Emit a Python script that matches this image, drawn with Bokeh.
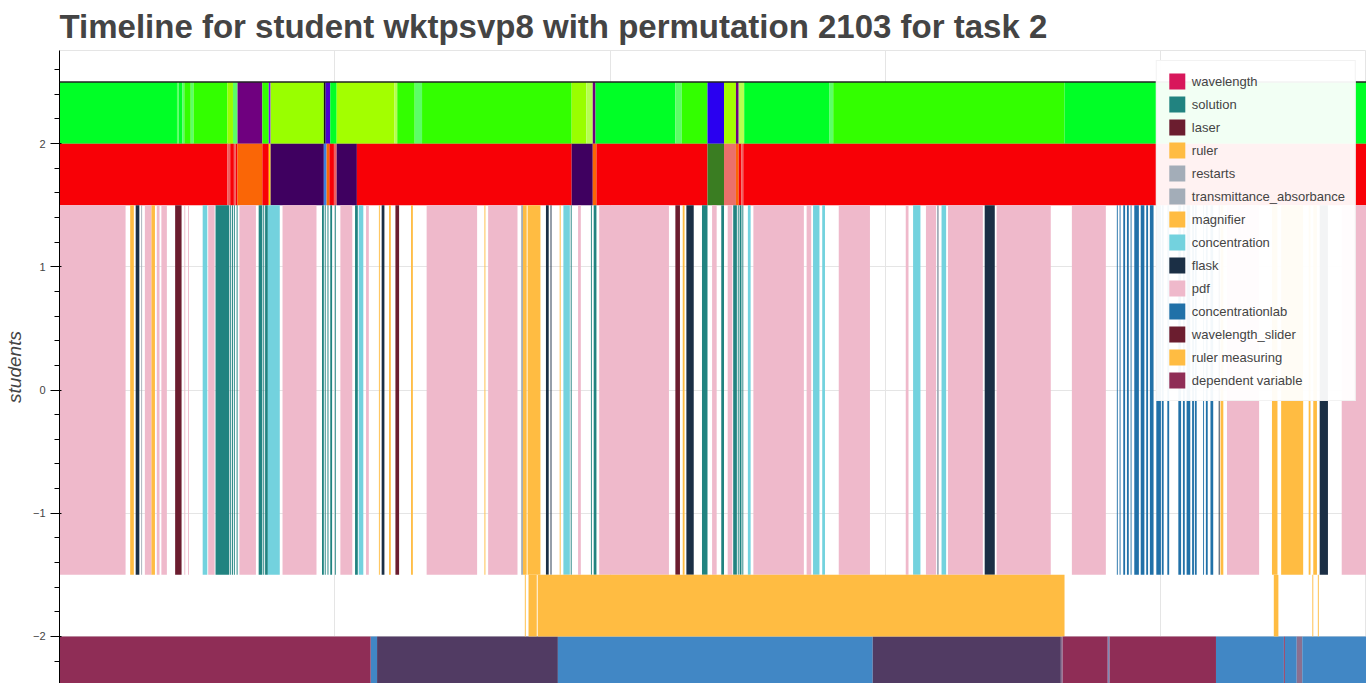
from bokeh.plotting import figure
from bokeh.models import (ColumnDataSource, Range1d, Legend, LegendItem, Span,
                          SingleIntervalTicker)
from bokeh.embed import file_html
from bokeh.resources import INLINE

TITLE = "Timeline for student wktpsvp8 with permutation 2103 for task 2"
Y_LABEL = "students"

# ---------------- data (times in seconds from start) ----------------
# Row A (upper state strip): breakpoints and the state between them
row_a_breaks = [0, 128, 130, 134, 136, 143, 146, 183, 189, 194, 221, 228, 230, 288, 290,
                295, 302, 365, 368, 387, 395, 558, 574, 581, 584, 671, 678, 706, 724,
                737, 740, 746, 839, 843, 1095, 1430]
row_a_states = ["a", "i", "a", "i", "b", "i", "b", "c", "i", "e", "b", "k", "c", "h", "g",
                "a", "d", "j", "b", "i", "b", "c", "j", "e", "a", "i", "b", "f", "d", "e",
                "j", "a", "i", "b", "a"]

# Row B (second state strip)
row_b_breaks = [0, 183, 186, 190, 192, 194, 221, 228, 230, 288, 291, 294, 299, 302, 324,
                558, 581, 585, 706, 724, 737, 740, 743, 745, 1430]
row_b_states = ["r", "s", "r", "s", "r", "o", "r", "y", "p", "u", "o", "r", "s", "p", "r",
                "p", "o", "r", "v", "m", "o", "r", "s", "r"]

# Row E (bottom strip)
row_e_breaks = [0, 339, 346, 543, 886, 1091, 1093, 1142, 1144, 1260, 1334, 1335, 1348,
                1354, 1430]
row_e_states = ["dependent variable", "E2", "E3", "E2", "E3", "E4", "dependent variable",
                "E5", "dependent variable", "E2", "dependent variable", "E2", "E4", "E2"]

# Row D: ruler measuring intervals
ruler_measuring = [(507, 508), (511, 520), (521, 1095), (1323, 1328), (1365, 1366),
                   (1371, 1372)]

# Main band: action intervals per category
wavelength = [(0, 0)]
solution = [(170, 185), (186, 187), (188, 189), (190, 191), (193, 194), (217, 221),
            (222, 223), (224, 227), (286, 288), (289, 290), (292, 293), (295, 297),
            (300, 301), (322, 325), (557, 558), (579, 580), (582, 585), (700, 706),
            (721, 724), (734, 738), (739, 740), (741, 743), (744, 745)]
laser = [(126, 133), (671, 676)]
ruler = [(77, 81), (100, 104), (348, 349), (359, 361), (383, 385), (463, 464), (505, 509),
         (545, 546), (679, 681), (1265, 1268), (1321, 1327), (1361, 1363), (1366, 1370)]
restarts = [(89, 90), (503, 505)]
transmittance_absorbance = [(956, 958)]
magnifier = [(510, 524), (1331, 1355)]
concentration = [(156, 161), (227, 240), (326, 331), (549, 556), (750, 753), (821, 828),
                 (831, 834), (930, 938), (961, 966)]
flask = [(83, 87), (351, 354), (530, 533), (535, 536), (683, 691), (1008, 1019),
         (1263, 1264), (1373, 1382)]
pdf = [(0, 72), (93, 100), (106, 109), (111, 117), (136, 137), (140, 141), (162, 169),
       (196, 214), (243, 280), (306, 319), (334, 337), (400, 455), (467, 499), (565, 568),
       (588, 664), (711, 716), (728, 733), (756, 811), (814, 819), (849, 883), (922, 925),
       (944, 955), (968, 1006), (1021, 1080), (1103, 1140), (1272, 1307), (1397, 1430)]
concentrationlab = [(1152, 1153), (1155, 1156), (1159, 1161), (1163, 1165), (1167, 1168),
                    (1171, 1176), (1178, 1182), (1184, 1186), (1188, 1192), (1195, 1200),
                    (1201, 1203), (1207, 1209), (1219, 1222), (1224, 1226), (1228, 1232),
                    (1234, 1236), (1237, 1239), (1246, 1247), (1249, 1251), (1254, 1257)]
wavelength_slider = [(366, 370)]

# ---------------- styling ----------------
ROW_A_COLORS = {"a": "#00FF26", "b": "#33FF00", "c": "#99FF00", "d": "#A3FF00",
                "e": "#6F007F", "f": "#2A00F0", "g": "#4B00D0", "h": "#151515",
                "i": "#5CFF66", "j": "#B5FF50", "k": "#8000FF"}
ROW_B_COLORS = {"r": "#F80006", "o": "#FA6606", "p": "#3F0060", "y": "#FFD700",
                "u": "#3A80E0", "s": "#F06060", "v": "#3A7D22", "m": "#EB706B"}
ROW_E_COLORS = {"dependent variable": "#8E2C55", "E2": "#4187C5", "E3": "#513B63",
                "E4": "#8A7090", "E5": "#7C86B5"}
CAT_COLORS = {"wavelength": "#D8175B", "solution": "#218380", "laser": "#6B1D2F",
              "ruler": "#FFBC42", "restarts": "#A3ADB8",
              "transmittance_absorbance": "#A3ADB8", "magnifier": "#FFBC42",
              "concentration": "#73D2DE", "flask": "#1B2F45", "pdf": "#EFB9CB",
              "concentrationlab": "#2171A8", "wavelength_slider": "#6B1D2F",
              "ruler measuring": "#FFBC42", "dependent variable": "#8F2D56"}
BANDS = {"A": (2.0, 2.5), "B": (1.5, 2.0), "C": (-1.5, 1.5), "D": (-2.0, -1.5),
         "E": (-2.5, -2.0)}
FONT = "Liberation Sans"

p = figure(width=1366, height=683, output_backend="svg", toolbar_location=None,
           x_range=Range1d(0, 1424), y_range=Range1d(-2.382, 2.756),
           title=TITLE, min_border_left=59, min_border_right=0, min_border_bottom=0,
           min_border_top=0)
p.title.text_font = FONT
p.title.text_font_size = "33px"
p.title.text_font_style = "bold"
p.title.text_color = "#444444"
p.title.standoff = 11
p.xaxis.visible = False
p.xgrid.ticker = SingleIntervalTicker(interval=300)
p.yaxis.ticker = SingleIntervalTicker(interval=1, num_minor_ticks=5)
p.ygrid.ticker = SingleIntervalTicker(interval=1)
p.yaxis.axis_label = Y_LABEL
p.yaxis.axis_label_text_font = FONT
p.yaxis.axis_label_text_font_size = "19px"
p.yaxis.axis_label_text_font_style = "italic"
p.yaxis.axis_label_text_color = "#444444"
p.yaxis.major_label_text_font = FONT
p.yaxis.major_label_text_font_size = "11px"
p.yaxis.major_label_text_color = "#444444"
p.yaxis.major_tick_out = 9
p.yaxis.minor_tick_out = 5
p.yaxis.axis_line_color = "black"
p.yaxis.major_tick_line_color = "black"
p.yaxis.minor_tick_line_color = "black"


def state_source(breaks, states, palette, band):
    lo, hi = BANDS[band]
    return ColumnDataSource(dict(left=breaks[:-1], right=breaks[1:],
                                 color=[palette[s] for s in states],
                                 bottom=[lo] * len(states), top=[hi] * len(states)))


def interval_source(intervals, band):
    lo, hi = BANDS[band]
    return ColumnDataSource(dict(left=[a for a, b in intervals],
                                 right=[b for a, b in intervals],
                                 bottom=[lo] * len(intervals), top=[hi] * len(intervals)))


for breaks, states, pal, band in [(row_a_breaks, row_a_states, ROW_A_COLORS, "A"),
                                  (row_b_breaks, row_b_states, ROW_B_COLORS, "B")]:
    p.quad(left="left", right="right", bottom="bottom", top="top", fill_color="color",
           line_color=None, source=state_source(breaks, states, pal, band))

e_other = [i for i, s in enumerate(row_e_states) if s != "dependent variable"]
e_src = state_source(row_e_breaks, row_e_states, ROW_E_COLORS, "E")
p.quad(left="left", right="right", bottom="bottom", top="top", fill_color="color",
       line_color=None,
       source=ColumnDataSource({k: [v[i] for i in e_other] for k, v in e_src.data.items()}))
dep_intervals = [(row_e_breaks[i], row_e_breaks[i + 1]) for i, s in enumerate(row_e_states)
                 if s == "dependent variable"]

categories = [("wavelength", wavelength, "C"), ("solution", solution, "C"),
              ("laser", laser, "C"), ("ruler", ruler, "C"), ("restarts", restarts, "C"),
              ("transmittance_absorbance", transmittance_absorbance, "C"),
              ("magnifier", magnifier, "C"), ("concentration", concentration, "C"),
              ("flask", flask, "C"), ("pdf", pdf, "C"),
              ("concentrationlab", concentrationlab, "C"),
              ("wavelength_slider", wavelength_slider, "C"),
              ("ruler measuring", ruler_measuring, "D"),
              ("dependent variable", dep_intervals, "E")]

items = []
for name, intervals, band in categories:
    r = p.quad(left="left", right="right", bottom="bottom", top="top",
               fill_color=CAT_COLORS[name], line_color=None,
               source=interval_source(intervals, band))
    items.append(LegendItem(label=name, renderers=[r]))

p.add_layout(Span(location=BANDS["A"][1], dimension="width", line_color="#222222",
                  line_width=1.5))

legend = Legend(items=items, location="top_right", label_text_font=FONT,
                label_text_font_size="13px", label_text_color="#444444")
p.add_layout(legend)

open("out.html", "w").write(file_html(p, INLINE))
